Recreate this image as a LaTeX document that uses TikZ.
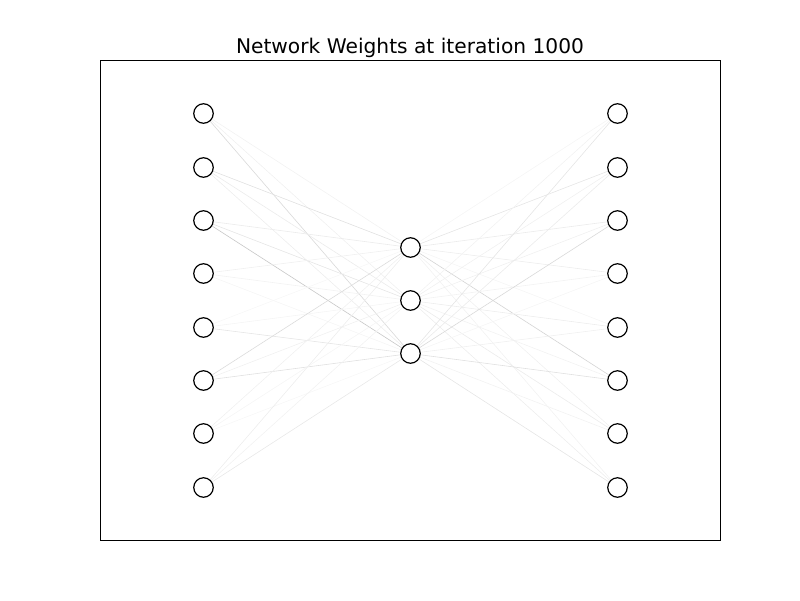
\documentclass[tikz,border=0pt]{standalone}
\usepackage{fontspec}
\setmainfont{DejaVu Sans}
\begin{document}
\begin{tikzpicture}[x=1pt,y=-1pt,
  neuron/.style={circle,draw=black,fill=white,line width=1.2pt,minimum size=19.5pt,inner sep=0pt},
  wire/.style={line width=0.6pt},
  frame/.style={draw=black,line width=1pt}]
\useasboundingbox (0,0) rectangle (800,600);
\node[frame,minimum width=620pt,minimum height=480pt,inner sep=0pt] (box) at (410,300) {};
\node[font=\fontsize{20.2}{24}\selectfont,anchor=base] (title) at (410,53) {Network Weights at iteration 1000};
% coordinates
\foreach \i/\y in {1/113,2/167,3/220,4/273,5/327,6/380,7/433,8/487}{
  \coordinate (L\i) at (203.5,\y.5);
  \coordinate (R\i) at (617.5,\y.5);
}
\foreach \j/\y in {1/247,2/300,3/353}{\coordinate (M\j) at (410.5,\y.5);}
% input -> hidden
\foreach \i/\a/\b/\c in {1/5/6/15,2/12/8/7,3/8/10/22,4/6/5/4,5/3/4/10,6/14/6/12,7/6/4/3,8/7/5/9}{
  \draw[wire,black!\a] (L\i) -- (M1);
  \draw[wire,black!\b] (L\i) -- (M2);
  \draw[wire,black!\c] (L\i) -- (M3);
}
% hidden -> output
\foreach \j/\a/\b/\c/\d/\e/\f/\g/\h in {1/4/10/8/7/4/17/6/5,2/5/6/6/5/7/5/8/7,3/10/8/15/4/6/12/5/10}{
  \draw[wire,black!\a] (M\j) -- (R1);
  \draw[wire,black!\b] (M\j) -- (R2);
  \draw[wire,black!\c] (M\j) -- (R3);
  \draw[wire,black!\d] (M\j) -- (R4);
  \draw[wire,black!\e] (M\j) -- (R5);
  \draw[wire,black!\f] (M\j) -- (R6);
  \draw[wire,black!\g] (M\j) -- (R7);
  \draw[wire,black!\h] (M\j) -- (R8);
}
% neurons
\foreach \i in {1,...,8}{
  \node[neuron] (nL\i) at (L\i) {};
  \node[neuron] (nR\i) at (R\i) {};
}
\foreach \j in {1,2,3}{\node[neuron] (nM\j) at (M\j) {};}
\end{tikzpicture}
\end{document}
